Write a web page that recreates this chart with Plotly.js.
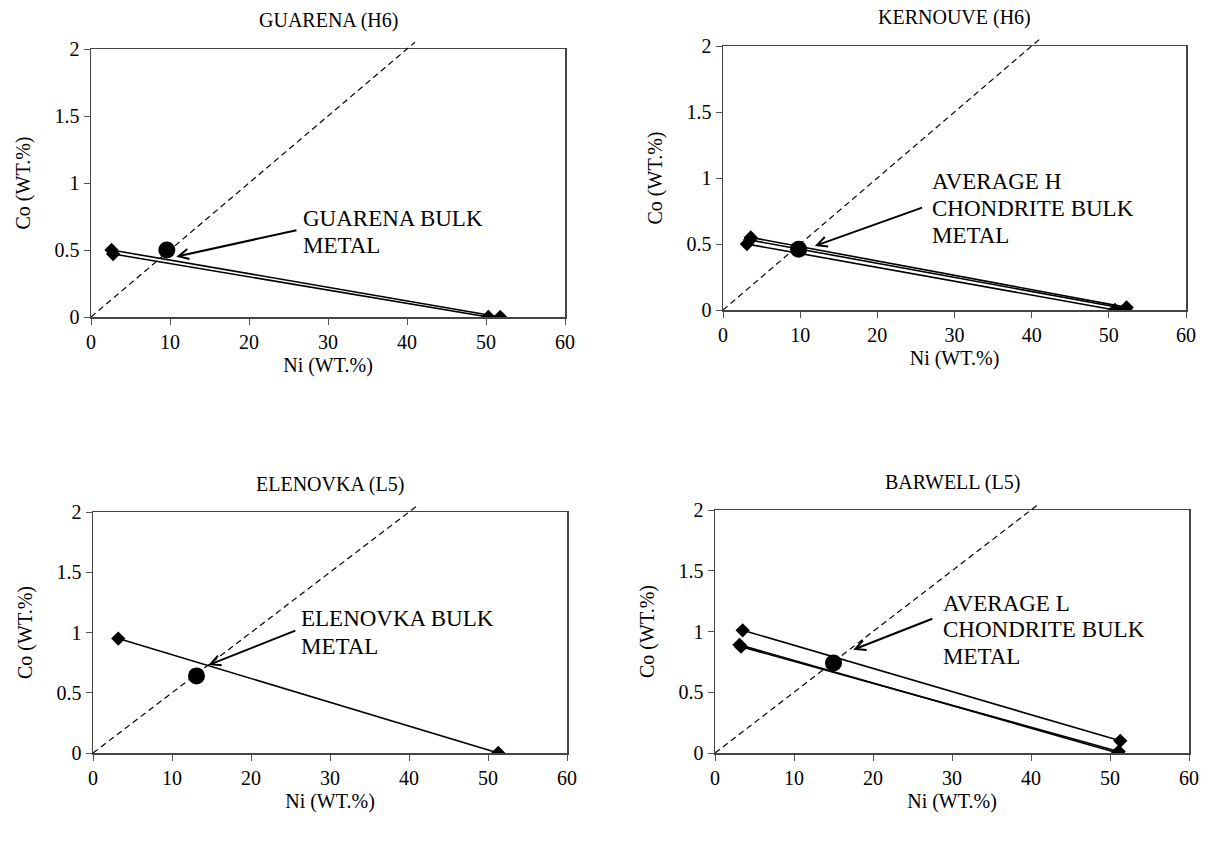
<!DOCTYPE html>
<html>
<head>
<meta charset="utf-8">
<script src="https://cdn.plot.ly/plotly-3.0.1.min.js"></script>
<style>
  html, body { margin: 0; padding: 0; background: #ffffff; }
  #chart { width: 1208px; height: 842px; }
</style>
</head>
<body>
<div id="chart"></div>
<script>
// ---------------- DATA ----------------
// 1:20 reference line (Co = Ni / 20)
const refNi = [0, 41];
const refCo = [0, 2.05];

// GUARENA (H6)
const guarenaTie1Ni = [2.6, 51.8];
const guarenaTie1Co = [0.50, 0.00];
const guarenaTie2Ni = [2.8, 50.3];
const guarenaTie2Co = [0.47, 0.00];
const guarenaBulkNi = [9.6];
const guarenaBulkCo = [0.50];

// KERNOUVE (H6)
const kernouveTie1Ni = [3.6, 52.3];
const kernouveTie1Co = [0.55, 0.02];
const kernouveTie2Ni = [3.5, 52.2];
const kernouveTie2Co = [0.53, 0.01];
const kernouveTie3Ni = [3.1, 50.8];
const kernouveTie3Co = [0.50, 0.00];
const kernouveBulkNi = [9.8];
const kernouveBulkCo = [0.46];

// ELENOVKA (L5)
const elenovkaTie1Ni = [3.2, 51.3];
const elenovkaTie1Co = [0.95, 0.00];
const elenovkaBulkNi = [13.1];
const elenovkaBulkCo = [0.64];

// BARWELL (L5)
const barwellTie1Ni = [3.5, 51.3];
const barwellTie1Co = [1.01, 0.10];
const barwellTie2Ni = [3.1, 51.0];
const barwellTie2Co = [0.89, 0.00];
const barwellTie3Ni = [3.3, 51.1];
const barwellTie3Co = [0.875, 0.012];
const barwellBulkNi = [15.0];
const barwellBulkCo = [0.74];

const panelTitles = ['GUARENA (H6)', 'KERNOUVE (H6)', 'ELENOVKA (L5)', 'BARWELL (L5)'];
// callout text lines and the data-unit position of each line (left edge, line centre)
const calloutLines = [
  ['GUARENA BULK', 'METAL'],
  ['AVERAGE H', 'CHONDRITE BULK', 'METAL'],
  ['ELENOVKA BULK', 'METAL'],
  ['AVERAGE L', 'CHONDRITE BULK', 'METAL']
];
const calloutNi = [26.7, 27.0, 26.2, 28.7];
const calloutCo = [
  [0.735, 0.537],
  [0.97, 0.769, 0.568],
  [1.12, 0.88],
  [1.23, 1.02, 0.795]
];
// callout arrow head / tail in data units
const arrowHeadNi = [10.8, 11.9, 14.6, 17.5];
const arrowHeadCo = [0.45, 0.485, 0.73, 0.85];
const arrowTailNi = [26.2, 26.0, 25.8, 27.7];
const arrowTailCo = [0.65, 0.78, 1.02, 1.11];

const xTickVals = [0, 10, 20, 30, 40, 50, 60];
const yTickVals = [0, 0.5, 1, 1.5, 2];
const yTickText = ['0', '0.5', '1', '1.5', '2'];
const xTitle = 'Ni (WT.%)';
const yTitle = 'Co (WT.%)';

// ---------------- LAYOUT HELPERS ----------------
const W = 1208, H = 842;
const FONT = 'Liberation Serif, "Times New Roman", Times, serif';
// pixel boxes of each plot area: left, right, bottom(y=0), top(y=2)
const boxes = [
  {l: 91,  r: 565,  b: 317, t: 49},
  {l: 723, r: 1186, b: 310, t: 46},
  {l: 93,  r: 567,  b: 753, t: 512},
  {l: 715, r: 1189, b: 753, t: 510}
];
const EXT = 2.1; // extended range for the reference line subplot

const layout = {
  width: W, height: H,
  margin: {l: 0, r: 0, t: 0, b: 0},
  paper_bgcolor: '#ffffff',
  plot_bgcolor: 'rgba(0,0,0,0)',
  showlegend: false,
  font: {family: FONT, size: 20, color: '#000000'},
  annotations: []
};

boxes.forEach((b, i) => {
  const n = i + 1;
  const xs = n === 1 ? '' : String(n);
  const xd = [b.l / W, b.r / W];
  const yd = [1 - b.b / H, 1 - b.t / H];
  const extTop = b.b - (b.b - b.t) * EXT / 2;
  layout['xaxis' + xs] = {
    domain: xd, anchor: 'y' + xs, range: [0, 60],
    tickvals: xTickVals, ticks: 'outside', ticklen: 6, tickwidth: 1, tickcolor: '#555555',
    showline: true, linecolor: '#444444', linewidth: 1.5, mirror: true,
    showgrid: false, zeroline: false,
    tickfont: {family: FONT, size: 20, color: '#000'},
    title: {text: xTitle, font: {family: FONT, size: 20, color: '#000'}, standoff: 6}
  };
  layout['yaxis' + xs] = {
    domain: yd, anchor: 'x' + xs, range: [0, 2],
    tickvals: yTickVals, ticktext: yTickText,
    ticks: 'outside', ticklen: 6, tickwidth: 1, tickcolor: '#555555',
    showline: true, linecolor: '#444444', linewidth: 1.5, mirror: true,
    showgrid: false, zeroline: false,
    tickfont: {family: FONT, size: 20, color: '#000'},
    title: {text: yTitle, font: {family: FONT, size: 20, color: '#000'}, standoff: 18}
  };
  // invisible extended y-axis sharing the same scale, for the reference line
  layout['yaxis' + (n + 4)] = {
    domain: [1 - b.b / H, 1 - extTop / H], anchor: 'x' + xs, range: [0, EXT],
    visible: false, showgrid: false, zeroline: false
  };
  // panel title
  layout.annotations.push({
    xref: 'paper', yref: 'paper', x: ((b.l + b.r) / 2) / W, y: 1 - (b.t - 28) / H,
    xanchor: 'center', yanchor: 'middle', showarrow: false,
    text: panelTitles[i], font: {family: FONT, size: 20, color: '#000'}
  });
  // callout text, one annotation per line (tighter line spacing)
  calloutLines[i].forEach((line, k) => {
    layout.annotations.push({
      xref: 'x' + xs, yref: 'y' + xs, x: calloutNi[i], y: calloutCo[i][k],
      xanchor: 'left', yanchor: 'middle', align: 'left', showarrow: false,
      borderpad: 0, text: line, font: {family: FONT, size: 23, color: '#000'}
    });
  });
  // callout arrow
  layout.annotations.push({
    xref: 'x' + xs, yref: 'y' + xs, x: arrowHeadNi[i], y: arrowHeadCo[i],
    axref: 'x' + xs, ayref: 'y' + xs, ax: arrowTailNi[i], ay: arrowTailCo[i],
    text: '', showarrow: true, arrowhead: 5, arrowsize: 1, arrowwidth: 2,
    arrowcolor: '#000', standoff: 0, startstandoff: 0
  });
});

// ---------------- TRACES ----------------
const traces = [];
function axisPair(i) {
  const n = i + 1;
  return n === 1 ? {xaxis: 'x', yaxis: 'y'} : {xaxis: 'x' + n, yaxis: 'y' + n};
}
function refLine(i) {
  const n = i + 1;
  traces.push({
    type: 'scatter', mode: 'lines', x: refNi, y: refCo,
    xaxis: n === 1 ? 'x' : 'x' + n, yaxis: 'y' + (n + 4),
    line: {color: '#000', width: 1.2, dash: '6px,4px'}, hoverinfo: 'skip'
  });
}
function tie(i, xs, ys) {
  traces.push(Object.assign({
    type: 'scatter', mode: 'lines+markers', x: xs, y: ys,
    line: {color: '#000', width: 1.6},
    marker: {symbol: 'diamond', size: 11, color: '#000'}
  }, axisPair(i)));
}
function bulk(i, xs, ys) {
  traces.push(Object.assign({
    type: 'scatter', mode: 'markers', x: xs, y: ys,
    marker: {symbol: 'circle', size: 17, color: '#000'}
  }, axisPair(i)));
}

[0, 1, 2, 3].forEach(refLine);
tie(0, guarenaTie1Ni, guarenaTie1Co);
tie(0, guarenaTie2Ni, guarenaTie2Co);
bulk(0, guarenaBulkNi, guarenaBulkCo);

tie(1, kernouveTie1Ni, kernouveTie1Co);
tie(1, kernouveTie2Ni, kernouveTie2Co);
tie(1, kernouveTie3Ni, kernouveTie3Co);
bulk(1, kernouveBulkNi, kernouveBulkCo);

tie(2, elenovkaTie1Ni, elenovkaTie1Co);
bulk(2, elenovkaBulkNi, elenovkaBulkCo);

tie(3, barwellTie1Ni, barwellTie1Co);
tie(3, barwellTie2Ni, barwellTie2Co);
tie(3, barwellTie3Ni, barwellTie3Co);
bulk(3, barwellBulkNi, barwellBulkCo);

Plotly.newPlot('chart', traces, layout, {displayModeBar: false, staticPlot: true});
</script>
</body>
</html>
